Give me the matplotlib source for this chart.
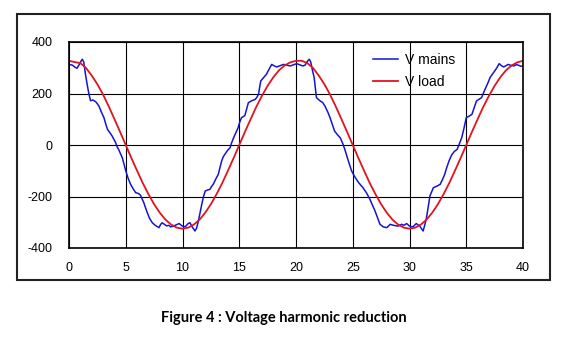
import matplotlib.pyplot as plt
from matplotlib.patches import Rectangle

plt.rcParams['axes.unicode_minus'] = False

# V mains (time in ms, volts)
mains_t = [
    0, 0.3, 0.5, 0.7, 0.9, 1.05, 1.17, 1.3, 1.45, 1.6, 1.76, 1.9, 2.1, 2.35, 2.5, 2.65, 2.85,
    3.08, 3.25, 3.4, 3.6, 3.8, 3.96, 4.1, 4.25, 4.4, 4.55, 4.7, 4.85, 5.0, 5.2, 5.43, 5.65,
    5.87, 6.1, 6.3, 6.45, 6.6, 6.75, 6.9, 7.1, 7.34, 7.6, 7.93, 8.05, 8.2, 8.4, 8.6, 8.8,
    8.96, 9.2, 9.45, 9.7, 9.9, 10.1, 10.3, 10.5, 10.66, 10.85, 11.0, 11.1, 11.25, 11.4,
    11.55, 11.7, 11.85, 12.0, 12.2, 12.42, 12.55, 12.7, 12.9, 13.15, 13.3, 13.45, 13.6,
    13.74, 13.95, 14.2, 14.3, 14.5, 14.7, 14.9, 15.05, 15.2, 15.35, 15.5, 15.65, 15.8,
    16.1, 16.4, 16.55, 16.7, 16.8, 16.9, 17.15, 17.4, 17.6, 17.86, 18.05, 18.3, 18.6,
    18.9, 19.2, 19.5, 19.8, 20.06, 20.3, 20.6, 20.8, 21.0, 21.17, 21.3, 21.45, 21.6, 21.8,
    22.1, 22.35, 22.55, 22.8, 23.0, 23.2, 23.4, 23.65, 23.9, 24.1, 24.3, 24.6, 24.9,
    25.2, 25.5, 25.9, 26.2, 26.5, 26.75, 26.96, 27.2, 27.4, 27.7, 28.0, 28.3, 28.6, 29.0,
    29.3, 29.5, 29.75, 30.0, 30.3, 30.6, 30.9, 31.2, 31.35, 31.5, 31.65, 31.8, 32.1,
    32.4, 32.7, 32.9, 33.1, 33.3, 33.5, 33.7, 33.95, 34.2, 34.4, 34.6, 34.8, 35.0, 35.25,
    35.5, 35.7, 35.9, 36.15, 36.35, 36.5, 36.65, 36.9, 37.1, 37.3, 37.5, 37.7, 37.9,
    38.1, 38.3, 38.5, 38.7, 38.95, 39.2, 39.4, 39.6, 39.8, 40.0,
]
mains_v = [
    313, 310, 303, 298, 312, 325, 333, 322, 275, 235, 197, 172, 175, 168, 160, 150, 128,
    106, 80, 60, 48, 35, 22, 10, -8, -20, -35, -50, -75, -100, -128, -153, -170,
    -185, -188, -195, -210, -225, -245, -263, -285, -302, -312, -321, -310, -302, -308, -314, -312,
    -318, -315, -310, -305, -312, -318, -315, -305, -302, -318, -328, -334, -322, -295,
    -262, -230, -200, -179, -175, -172, -162, -153, -135, -114, -88, -62, -45,
    -36, -22, -10, 5, 28, 48, 67, 90, 106, 110, 115, 140, 164,
    172, 177, 185, 197, 225, 249, 262, 275, 292, 313, 308, 303, 308,
    313, 310, 307, 312, 316, 312, 307, 310, 325, 333, 322, 290, 262, 184,
    172, 165, 151, 128, 106, 80, 54, 40, 28, 8, -17, -60, -101,
    -125, -145, -166, -185, -210, -235, -256, -285, -308, -318, -321, -308, -312, -315,
    -308, -312, -305, -315, -318, -305, -315, -334, -310, -282, -240, -198, -166,
    -160, -153, -135, -114, -85, -60, -40, -25, -17, 5, 28, 65, 106, 112,
    119, 145, 171, 178, 184, 200, 216, 240, 262, 275, 287, 300, 316,
    308, 303, 308, 313, 309, 307, 312, 310, 306, 307,
]

# V load, sampled every 0.5 ms
load_t = [i * 0.5 for i in range(81)]
load_v = [
    327, 322, 318, 299, 270, 236, 196, 150, 101, 51,
    0, -51, -100, -148, -191, -230, -263, -290, -309, -321,
    -325, -321, -309, -290, -263, -230, -191, -148, -100, -51,
    0, 51, 100, 148, 191, 230, 263, 290, 309, 321,
    327, 327, 318, 299, 270, 236, 196, 150, 101, 51,
    0, -51, -100, -148, -191, -230, -263, -290, -309, -321,
    -325, -321, -309, -290, -263, -230, -191, -148, -100, -51,
    0, 51, 100, 148, 191, 230, 263, 290, 309, 321,
    327,
]

x_ticks = [0, 5, 10, 15, 20, 25, 30, 35, 40]
y_ticks = [-400, -200, 0, 200, 400]

W, H = 571, 339
fig = plt.figure(figsize=(W / 100, H / 100), dpi=100)
ax = fig.add_axes([69 / W, 1 - 248 / H, (523 - 69) / W, (248 - 42) / H])

ax.plot(mains_t, mains_v, color='#1414d2', lw=1.1, label='V mains')
ax.plot(load_t, load_v, color='#e0141e', lw=1.3, label='V load')

ax.set_xlim(0, 40)
ax.set_ylim(-400, 400)
ax.set_xticks(x_ticks)
ax.set_yticks(y_ticks)
ax.grid(True, color='black', lw=0.8)
ax.tick_params(length=0, pad=12, labelsize=9)
for lab in ax.get_xticklabels() + ax.get_yticklabels():
    lab.set_family('Liberation Sans')
ax.tick_params(axis='x', pad=10)
for s in ax.spines.values():
    s.set_linewidth(1.2)

leg = ax.legend(loc='upper left', bbox_to_anchor=(366 / W, 1 - 46 / H),
                bbox_transform=fig.transFigure, frameon=False,
                prop={'family': 'Liberation Sans', 'size': 10},
                borderpad=0, handlelength=1.8, handletextpad=0.5, labelspacing=0.55)

# outer chart frame
fig.patches.append(Rectangle((17 / W, 1 - 280 / H), (550 - 17) / W, (280 - 14) / H,
                             transform=fig.transFigure, fill=False,
                             edgecolor='#222222', lw=1.5))

fig.text(284 / W, 1 - 318 / H, 'Figure 4 : Voltage harmonic reduction',
         ha='center', va='center', family='Lato', weight='bold', fontsize=10.5)

fig.savefig('out.png', dpi=100)
